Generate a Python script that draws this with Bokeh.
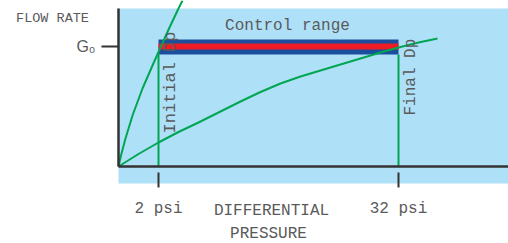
import math
from bokeh.plotting import figure
from bokeh.models import Range1d, FixedTicker, Label
from bokeh.embed import file_html
from bokeh.resources import INLINE

# schematic coordinates (differential pressure position, flow rate)
dp_ticks = [40, 280]
dp_tick_labels = ["2 psi", "32 psi"]
flow_ticks = [120]
flow_tick_labels = ["G₀"]

# steep curve
c1_x = [0, 3, 7, 14, 24, 34, 42, 51, 60, 64]
c1_y = [0, 13, 28, 51, 78, 101, 119, 139, 158, 166]
# gentle curve
c2_x = [0, 20, 40, 60, 80, 100, 122, 142, 162, 182, 202, 222, 242, 262, 280, 300, 319]
c2_y = [0, 12.5, 24, 34.5, 44, 54, 65, 74.5, 83, 90, 96, 102, 108, 114, 119, 124, 128]

# control range bar
bar_left, bar_right = 40, 280
bar_outer = (112, 127)
bar_inner = (117, 123)

# shaded chart area
area_x = (0, 390)
area_y = (-17, 158)

BLUE_BG = "#aee0f8"
GREEN = "#00a651"
TEXT = "#5a5a5a"
AX = "#333333"
MONO = "Liberation Mono"

p = figure(width=508, height=243, x_range=Range1d(-118, 390), y_range=Range1d(-77, 166),
           output_backend="svg", toolbar_location=None,
           min_border_left=0, min_border_right=0, min_border_top=0, min_border_bottom=0,
           background_fill_color="white", border_fill_color="white", outline_line_color=None)
p.grid.visible = False

p.quad(left=area_x[0], right=area_x[1], bottom=area_y[0], top=area_y[1],
       fill_color=BLUE_BG, line_color=None)

# x axis
xa = p.xaxis[0]
xa.fixed_location = 0
xa.bounds = area_x
xa.ticker = FixedTicker(ticks=dp_ticks)
xa.major_label_overrides = {t: l for t, l in zip(dp_ticks, dp_tick_labels)}
xa.axis_line_width = 2.5
xa.axis_line_color = AX
xa.major_tick_in = -6
xa.major_tick_out = 21
xa.major_tick_line_width = 2
xa.major_tick_line_color = AX
xa.minor_tick_line_color = None
xa.major_label_standoff = 12
xa.major_label_text_font = MONO
xa.major_label_text_font_size = "16px"
xa.major_label_text_color = TEXT

# y axis
ya = p.yaxis[0]
ya.fixed_location = 0
ya.bounds = (0, area_y[1])
ya.ticker = FixedTicker(ticks=flow_ticks)
ya.major_label_overrides = {t: l for t, l in zip(flow_ticks, flow_tick_labels)}
ya.axis_line_width = 2.5
ya.axis_line_color = AX
ya.major_tick_in = 0
ya.major_tick_out = 17
ya.major_tick_line_width = 2
ya.major_tick_line_color = AX
ya.minor_tick_line_color = None
ya.major_label_standoff = 6
ya.major_label_text_font = "Liberation Sans"
ya.major_label_text_font_size = "16px"
ya.major_label_text_color = TEXT
ya.major_label_orientation = "horizontal"

# vertical markers
p.segment(x0=dp_ticks, y0=[0, 0], x1=dp_ticks, y1=[bar_outer[0]] * 2, line_color=GREEN, line_width=2)

# control range bar
p.quad(left=bar_left, right=bar_right, bottom=bar_outer[0], top=bar_outer[1],
       fill_color="#1b4f9e", line_color=None)
p.quad(left=bar_left, right=bar_right, bottom=bar_inner[0], top=bar_inner[1],
       fill_color="#ee1c25", line_color=None)

# curves
p.line(c1_x, c1_y, line_color=GREEN, line_width=2)
p.line(c2_x, c2_y, line_color=GREEN, line_width=2)

def lab(x, y, text, size="16px", align="center", angle=0, font=MONO):
    p.add_layout(Label(x=x, y=y, text=text, text_font=font, text_font_size=size,
                       text_color=TEXT, text_align=align, text_baseline="middle",
                       angle=angle))

lab(169, 141, "Control range")
lab(52, 33, "Initial Dp", size="17px", align="left", angle=math.pi / 2)
lab(292, 51, "Final Dp", size="16px", align="left", angle=math.pi / 2)
lab(-66, 148.5, "FLOW RATE", size="13.5px")
lab(153, -44, "DIFFERENTIAL")
lab(150, -67, "PRESSURE")

open("out.html", "w").write(file_html(p, INLINE))
